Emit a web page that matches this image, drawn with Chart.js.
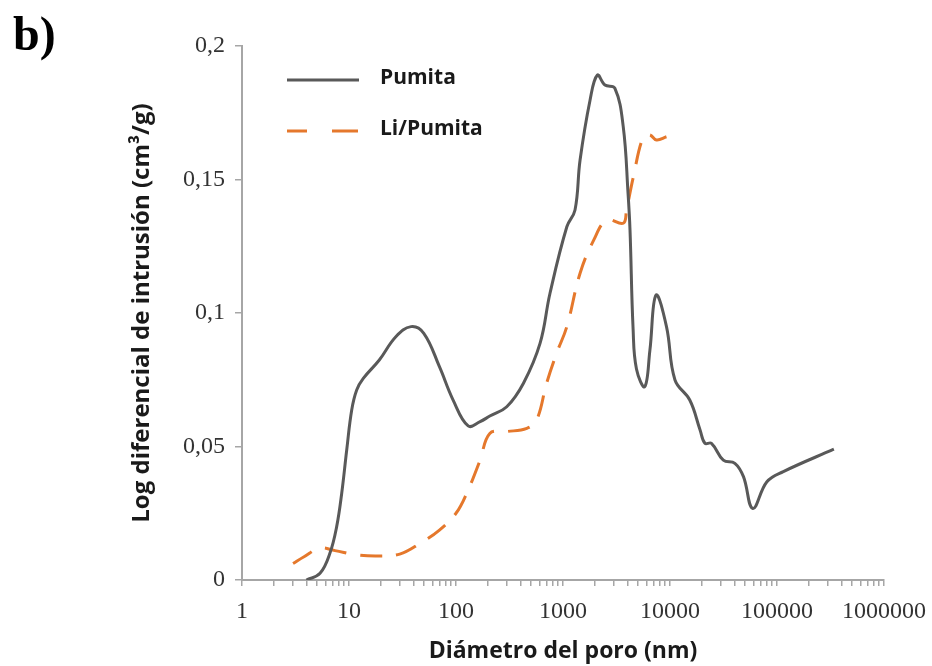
<!DOCTYPE html>
<html>
<head>
<meta charset="utf-8">
<script src="https://cdn.jsdelivr.net/npm/chart.js@4.4.0/dist/chart.umd.min.js"></script>
<style>
    html, body { margin: 0; padding: 0; background: #fff; }
    #wrap { position: relative; width: 932px; height: 666px; }
    #panelLabel {
        position: absolute; left: 13px; top: 6px;
        font: bold 48px "Liberation Serif", "Times New Roman", serif; color: #000;
    }
</style>
</head>
<body>
<div id="wrap">
    <canvas id="poreChart" width="932" height="666"></canvas>
    <div id="panelLabel">b)</div>
</div>
<script>
// pore diameter (nm) / log differential intrusion (cm3/g)
const pumitaX = [4.0, 5.36, 6.64, 7.67, 8.55, 9.52, 10.6, 11.8, 13.6, 19.2, 27.4, 38, 50, 70, 94, 130, 168, 207,
    298, 427, 610, 756, 1086, 1295, 1444, 1791, 2093, 2465, 3050, 3655, 4055, 4230, 4520, 4860, 5810, 6490,
    7400, 9270, 11130, 15300, 19100, 21200, 24400, 31500, 40400, 48600, 59400, 80500, 114600, 340000];
const pumitaY = [0, 0.0025, 0.0101, 0.020, 0.0325, 0.0487, 0.0637, 0.0712, 0.0755, 0.0824, 0.0911, 0.0949,
    0.0924, 0.0799, 0.0674, 0.0577, 0.0593, 0.0614, 0.0649, 0.0737, 0.0886, 0.1074, 0.1323, 0.1386, 0.1573,
    0.1798, 0.1891, 0.1854, 0.1842, 0.1698, 0.1448, 0.131, 0.094, 0.079, 0.0724, 0.0861, 0.1067, 0.0949,
    0.0749, 0.0674, 0.0562, 0.0512, 0.0512, 0.0449, 0.0437, 0.0387, 0.0268, 0.0368, 0.0406, 0.049];

const liPumitaX = [3.0, 3.8, 5.35, 7.4, 11.8, 19.2, 29.8, 46, 70, 100, 126, 168, 207, 298, 459, 567, 703, 871,
    1086, 1444, 1936, 2572, 3655, 3924, 4550, 5630, 6490, 7480, 9270];
const liPumitaY = [0.0062, 0.0087, 0.0119, 0.011, 0.0094, 0.009, 0.0097, 0.0137, 0.0187, 0.025, 0.0325,
    0.0449, 0.0549, 0.0556, 0.0568, 0.0599, 0.0737, 0.0849, 0.0949, 0.1149, 0.1273, 0.1348, 0.1336, 0.1386,
    0.1511, 0.166, 0.1667, 0.1648, 0.166];

const xTickValues = [1, 10, 100, 1000, 10000, 100000, 1000000];
const xTickLabels = ['1', '10', '100', '1000', '10000', '100000', '1000000'];
const yTickValues = [0, 0.05, 0.1, 0.15, 0.2];
const yTickLabels = ['0', '0,05', '0,1', '0,15', '0,2'];

const axisGray = '#a6a6a6';
const tickFont = { family: '"Liberation Serif", "Times New Roman", serif', size: 24 };

function toPoints(xs, ys) {
    return xs.map((x, i) => ({ x: x, y: ys[i] }));
}

// legend drawn inside the plot, top left, like the original
const insideLegend = {
    id: 'insideLegend',
    afterDraw(chart) {
        const ctx = chart.ctx;
        chart.data.datasets.forEach((ds, i) => {
            const y = 80 + i * 51;
            ctx.save();
            ctx.strokeStyle = ds.borderColor;
            ctx.lineWidth = ds.borderWidth;
            ctx.setLineDash(ds.borderDash ? [20, 25, 26] : []);
            ctx.beginPath();
            ctx.moveTo(287, y);
            ctx.lineTo(359, y);
            ctx.stroke();
            ctx.setLineDash([]);
            ctx.fillStyle = '#1a1a1a';
            ctx.font = 'bold 21px "Open Sans", sans-serif';
            ctx.textBaseline = 'middle';
            ctx.fillText(ds.label, 380, y - 2);
            ctx.restore();
        });
    }
};

new Chart(document.getElementById('poreChart').getContext('2d'), {
    type: 'line',
    data: {
        datasets: [{
            label: 'Pumita',
            data: toPoints(pumitaX, pumitaY),
            borderColor: '#595959',
            borderWidth: 3,
            pointRadius: 0,
            tension: 0.4
        }, {
            label: 'Li/Pumita',
            data: toPoints(liPumitaX, liPumitaY),
            borderColor: '#e5782c',
            borderWidth: 3,
            borderDash: [22, 14],
            pointRadius: 0,
            tension: 0.4
        }]
    },
    options: {
        responsive: false,
        animation: false,
        layout: { padding: { left: 128, top: 46, right: 0, bottom: 0 } },
        plugins: {
            legend: { display: false },
            tooltip: { enabled: false }
        },
        scales: {
            x: {
                type: 'logarithmic',
                min: 1,
                max: 1000000,
                border: { display: true, color: axisGray, width: 2 },
                grid: { drawOnChartArea: false, drawTicks: true, tickLength: 6, color: axisGray, lineWidth: 1.5 },
                ticks: {
                    autoSkip: false,
                    maxRotation: 0,
                    padding: 11,
                    font: tickFont,
                    color: '#333',
                    callback: v => {
                        const k = xTickValues.indexOf(v);
                        return k >= 0 ? xTickLabels[k] : '';
                    }
                },
                afterBuildTicks: scale => {
                    const ticks = [];
                    xTickValues.forEach((d, i) => {
                        ticks.push({ value: d, major: true });
                        if (i < xTickValues.length - 1) {
                            for (let m = 2; m <= 9; m++) ticks.push({ value: d * m });
                        }
                    });
                    scale.ticks = ticks;
                },
                afterFit: scale => {
                    scale.height = 86;
                    scale.paddingRight = 48;
                    scale.paddingLeft = 0;
                },
                title: {
                    display: true,
                    text: 'Diámetro del poro (nm)',
                    font: { family: '"Open Sans", sans-serif', size: 23, weight: 'bold' },
                    color: '#1a1a1a',
                    padding: { top: 2, bottom: 1 }
                }
            },
            y: {
                min: 0,
                max: 0.2,
                border: { display: true, color: axisGray, width: 2 },
                grid: { drawOnChartArea: false, drawTicks: true, tickLength: 7, color: axisGray, lineWidth: 1.5 },
                ticks: {
                    padding: 10,
                    font: tickFont,
                    color: '#333',
                    callback: (v, i) => yTickLabels[i]
                },
                afterBuildTicks: scale => {
                    scale.ticks = yTickValues.map(v => ({ value: v }));
                },
                afterFit: scale => {
                    scale.width = 114;
                },
                title: {
                    display: true,
                    text: 'Log diferencial de intrusión (cm³/g)',
                    font: { family: '"Open Sans", sans-serif', size: 24, weight: 'bold' },
                    color: '#1a1a1a',
                    padding: { top: 0, bottom: 4 }
                }
            }
        }
    },
    plugins: [insideLegend]
});
</script>
</body>
</html>
